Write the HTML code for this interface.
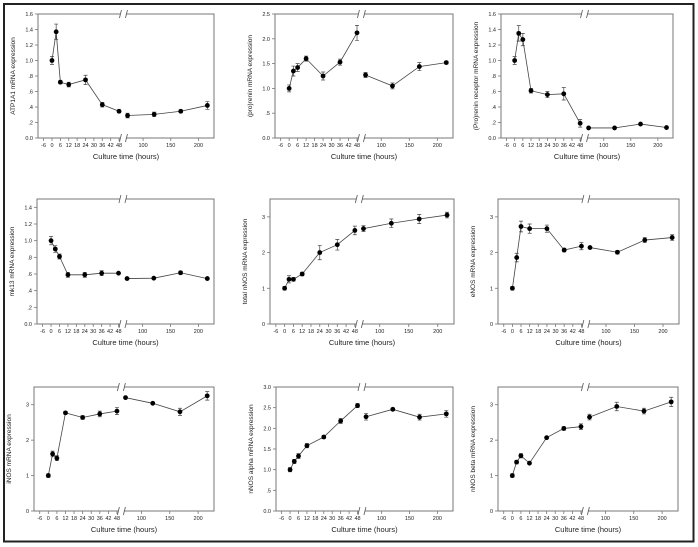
<!DOCTYPE html>
<html><head><meta charset="utf-8"><style>
html,body{margin:0;padding:0;background:#fff}
svg{display:block}
text{font-family:"Liberation Sans",sans-serif;fill:#222}
</style></head><body>
<svg id="fig" width="698" height="547" viewBox="0 0 698 547">
<rect x="4" y="4" width="689.5" height="537.5" fill="none" stroke="#222" stroke-width="2"/>
</svg>
<script>
const leftTimes=[0,3,6,12,24,36,48];
const rightTimes=[72,120,168,216];
const leftTickLabels=[-6,0,6,12,18,24,30,36,42,48];
const rightTickLabels=[100,150,200];
const atpL=[1.0,1.37,0.72,0.69,0.75,0.43,0.345],atpLe=[.05,.1,.02,.03,.06,.03,.02];
const atpR=[0.29,0.305,0.345,0.42],atpRe=[.03,.03,.02,.05];
const reninL=[1.0,1.35,1.42,1.6,1.25,1.53,2.12],reninLe=[.07,.1,.08,.05,.08,.06,.15];
const reninR=[1.27,1.05,1.44,1.52],reninRe=[.05,.06,.08,.03];
const recL=[1.0,1.35,1.27,0.61,0.56,0.57,0.19],recLe=[.05,.1,.08,.03,.04,.08,.05];
const recR=[0.13,0.13,0.18,0.135],recRe=[.01,.01,.01,.01];
const mkL=[1.0,0.9,0.81,0.59,0.59,0.61,0.61],mkLe=[.05,.04,.03,.03,.03,.03,.01];
const mkR=[0.545,0.55,0.615,0.545],mkRe=[.01,.01,.02,.01];
const nnosL=[1.0,1.25,1.25,1.4,2.0,2.22,2.62],nnosLe=[.05,.1,.05,.05,.2,.15,.12];
const nnosR=[2.67,2.82,2.94,3.05],nnosRe=[.08,.12,.13,.08];
const enosL=[1.0,1.86,2.73,2.67,2.67,2.07,2.18],enosLe=[.05,.12,.15,.13,.1,.05,.1];
const enosR=[2.14,2.01,2.35,2.42],enosRe=[.03,.05,.07,.08];
const inosL=[1.0,1.61,1.49,2.77,2.64,2.74,2.82],inosLe=[.05,.08,.07,.04,.05,.08,.1];
const inosR=[3.2,3.04,2.8,3.25],inosRe=[.02,.02,.1,.12];
const alphaL=[1.0,1.2,1.33,1.58,1.79,2.18,2.55],alphaLe=[.05,.05,.06,.05,.04,.06,.05];
const alphaR=[2.28,2.46,2.27,2.35],alphaRe=[.08,.03,.07,.08];
const betaL=[1.0,1.38,1.56,1.35,2.07,2.33,2.38],betaLe=[.05,.05,.06,.03,.03,.05,.08];
const betaR=[2.65,2.95,2.82,3.08],betaRe=[.08,.12,.08,.13];
const ticks16=["0.0",".2",".4",".6",".8","1.0","1.2","1.4","1.6"];
const ticks15=["0.0",".2",".4",".6",".8","1.0","1.2","1.4"];
const ticks25=["0.0",".5","1.0","1.5","2.0","2.5"];
const ticks30=["0.0",".5","1.0","1.5","2.0","2.5","3.0"];
const ticks35=["0","1","2","3"];

const NS="http://www.w3.org/2000/svg";
const svg=document.getElementById('fig');
function el(tag,attrs,parent){const e=document.createElementNS(NS,tag);for(const k in attrs)e.setAttribute(k,attrs[k]);(parent||svg).appendChild(e);return e;}

const panels=[
 {id:'atp1a1',lab:'ATP1A1 mRNA expression',x0:38,x1:214,y0:14,y1:138,ymax:1.6,tl:ticks16,L:atpL,Le:atpLe,R:atpR,Re:atpRe},
 {id:'prorenin',lab:'(pro)renin mRNA expression',x0:275,x1:453,y0:14,y1:138,ymax:2.5,tl:ticks25,L:reninL,Le:reninLe,R:reninR,Re:reninRe},
 {id:'prorenin-receptor',lab:'(Pro)renin receptor mRNA expression',x0:501,x1:673,y0:14,y1:138,ymax:1.6,tl:ticks16,L:recL,Le:recLe,R:recR,Re:recRe},
 {id:'mk13',lab:'mk13 mRNA expression',x0:37,x1:214,y0:199,y1:324,ymax:1.5,tl:ticks15,L:mkL,Le:mkLe,R:mkR,Re:mkRe},
 {id:'total-nnos',lab:'total nNOS mRNA expression',x0:270,x1:454,y0:199,y1:324,ymax:3.5,tl:ticks35,L:nnosL,Le:nnosLe,R:nnosR,Re:nnosRe},
 {id:'enos',lab:'eNOS mRNA expression',x0:498,x1:679,y0:199,y1:324,ymax:3.5,tl:ticks35,L:enosL,Le:enosLe,R:enosR,Re:enosRe},
 {id:'inos',lab:'iNOS mRNA expression',x0:34,x1:214,y0:387,y1:511,ymax:3.5,tl:ticks35,L:inosL,Le:inosLe,R:inosR,Re:inosRe},
 {id:'nnos-alpha',lab:'nNOS alpha mRNA expression',x0:276,x1:453,y0:387,y1:511,ymax:3.0,tl:ticks30,L:alphaL,Le:alphaLe,R:alphaR,Re:alphaRe},
 {id:'nnos-beta',lab:'nNOS beta mRNA expression',x0:498,x1:678,y0:387,y1:511,ymax:3.5,tl:ticks35,L:betaL,Le:betaLe,R:betaR,Re:betaRe}
];

panels.forEach(p=>{
 const g=el('g',{});
 
 
 const gap=6, lw=(p.x1-p.x0-gap)*0.485;
 const la=p.x0, lb=p.x0+lw, ra=lb+gap, rb=p.x1;
 const xl=t=>la+(t+10)/59*(lb-la);
 const xr=t=>ra+(t-70)/158*(rb-ra);
 const y=v=>p.y1-v/p.ymax*(p.y1-p.y0);
 const ax={stroke:'#777','stroke-width':1,fill:'none'};
 // box
 el('path',Object.assign({d:`M${lb},${p.y0}H${la}V${p.y1}H${lb}M${ra},${p.y0}H${rb}V${p.y1}H${ra}`},ax),g);
 // break marks
 [lb,ra].forEach(bx=>{
  [p.y0,p.y1].forEach(by=>{
   const b=el('line',{x1:bx-1,y1:by+4,x2:bx+1,y2:by-4,stroke:'#555','stroke-width':0.8},g);
   
   
  });
 });
 // y ticks
 const step=p.ymax>=3.5?1:(p.ymax>=2.5?0.5:0.2);
 p.tl.forEach((s,i)=>{
  const v=i*step, yy=y(v);
  el('line',{x1:la-3,y1:yy,x2:la,y2:yy,stroke:'#777','stroke-width':0.8},g);
  const t=el('text',{x:la-5,y:yy+2,'font-size':5.5,'text-anchor':'end'},g);
  t.textContent=s;
  
  
 });
 // x ticks
 leftTickLabels.forEach(v=>{
  const xx=xl(v);
  el('line',{x1:xx,y1:p.y1,x2:xx,y2:p.y1+3,stroke:'#777','stroke-width':0.8},g);
  const t=el('text',{x:xx,y:p.y1+9,'font-size':5.5,'text-anchor':'middle'},g);
  t.textContent=v;
  
  
 });
 rightTickLabels.forEach(v=>{
  const xx=xr(v);
  el('line',{x1:xx,y1:p.y1,x2:xx,y2:p.y1+3,stroke:'#777','stroke-width':0.8},g);
  const t=el('text',{x:xx,y:p.y1+9,'font-size':5.5,'text-anchor':'middle'},g);
  t.textContent=v;
  
  
 });
 // titles
 const xt=el('text',{x:(p.x0+p.x1)/2,y:p.y1+21,'font-size':7.5,'text-anchor':'middle'},g);
 xt.textContent='Culture time (hours)';
 
 
 const yc=(p.y0+p.y1)/2, yx=la-23;
 const yt=el('text',{x:yx,y:yc,'font-size':6.5,'text-anchor':'middle',transform:`rotate(-90 ${yx} ${yc})`},g);
 yt.textContent=p.lab;
 
 
 // series
 const seg=(times,vals,errs,xf,name)=>{
  const pts=times.map((t,i)=>[xf(t),y(vals[i])]);
  const ln=el('polyline',{points:pts.map(q=>q.join(',')).join(' '),fill:'none',stroke:'#444','stroke-width':0.8},g);
  
  
  times.forEach((t,i)=>{
   const cx=xf(t), hi=y(vals[i]+errs[i]), lo=y(vals[i]-errs[i]);
   const e=el('path',{d:`M${cx},${hi}V${lo}M${cx-2},${hi}H${cx+2}M${cx-2},${lo}H${cx+2}`,stroke:'#444','stroke-width':0.7,fill:'none'},g);
   
   
   const c=el('circle',{cx:cx,cy:y(vals[i]),r:2.4,fill:'#000'},g);
   
   
  });
 };
 seg(leftTimes,p.L,p.Le,xl,'early');
 seg(rightTimes,p.R,p.Re,xr,'late');
});
</script>
</body></html>
